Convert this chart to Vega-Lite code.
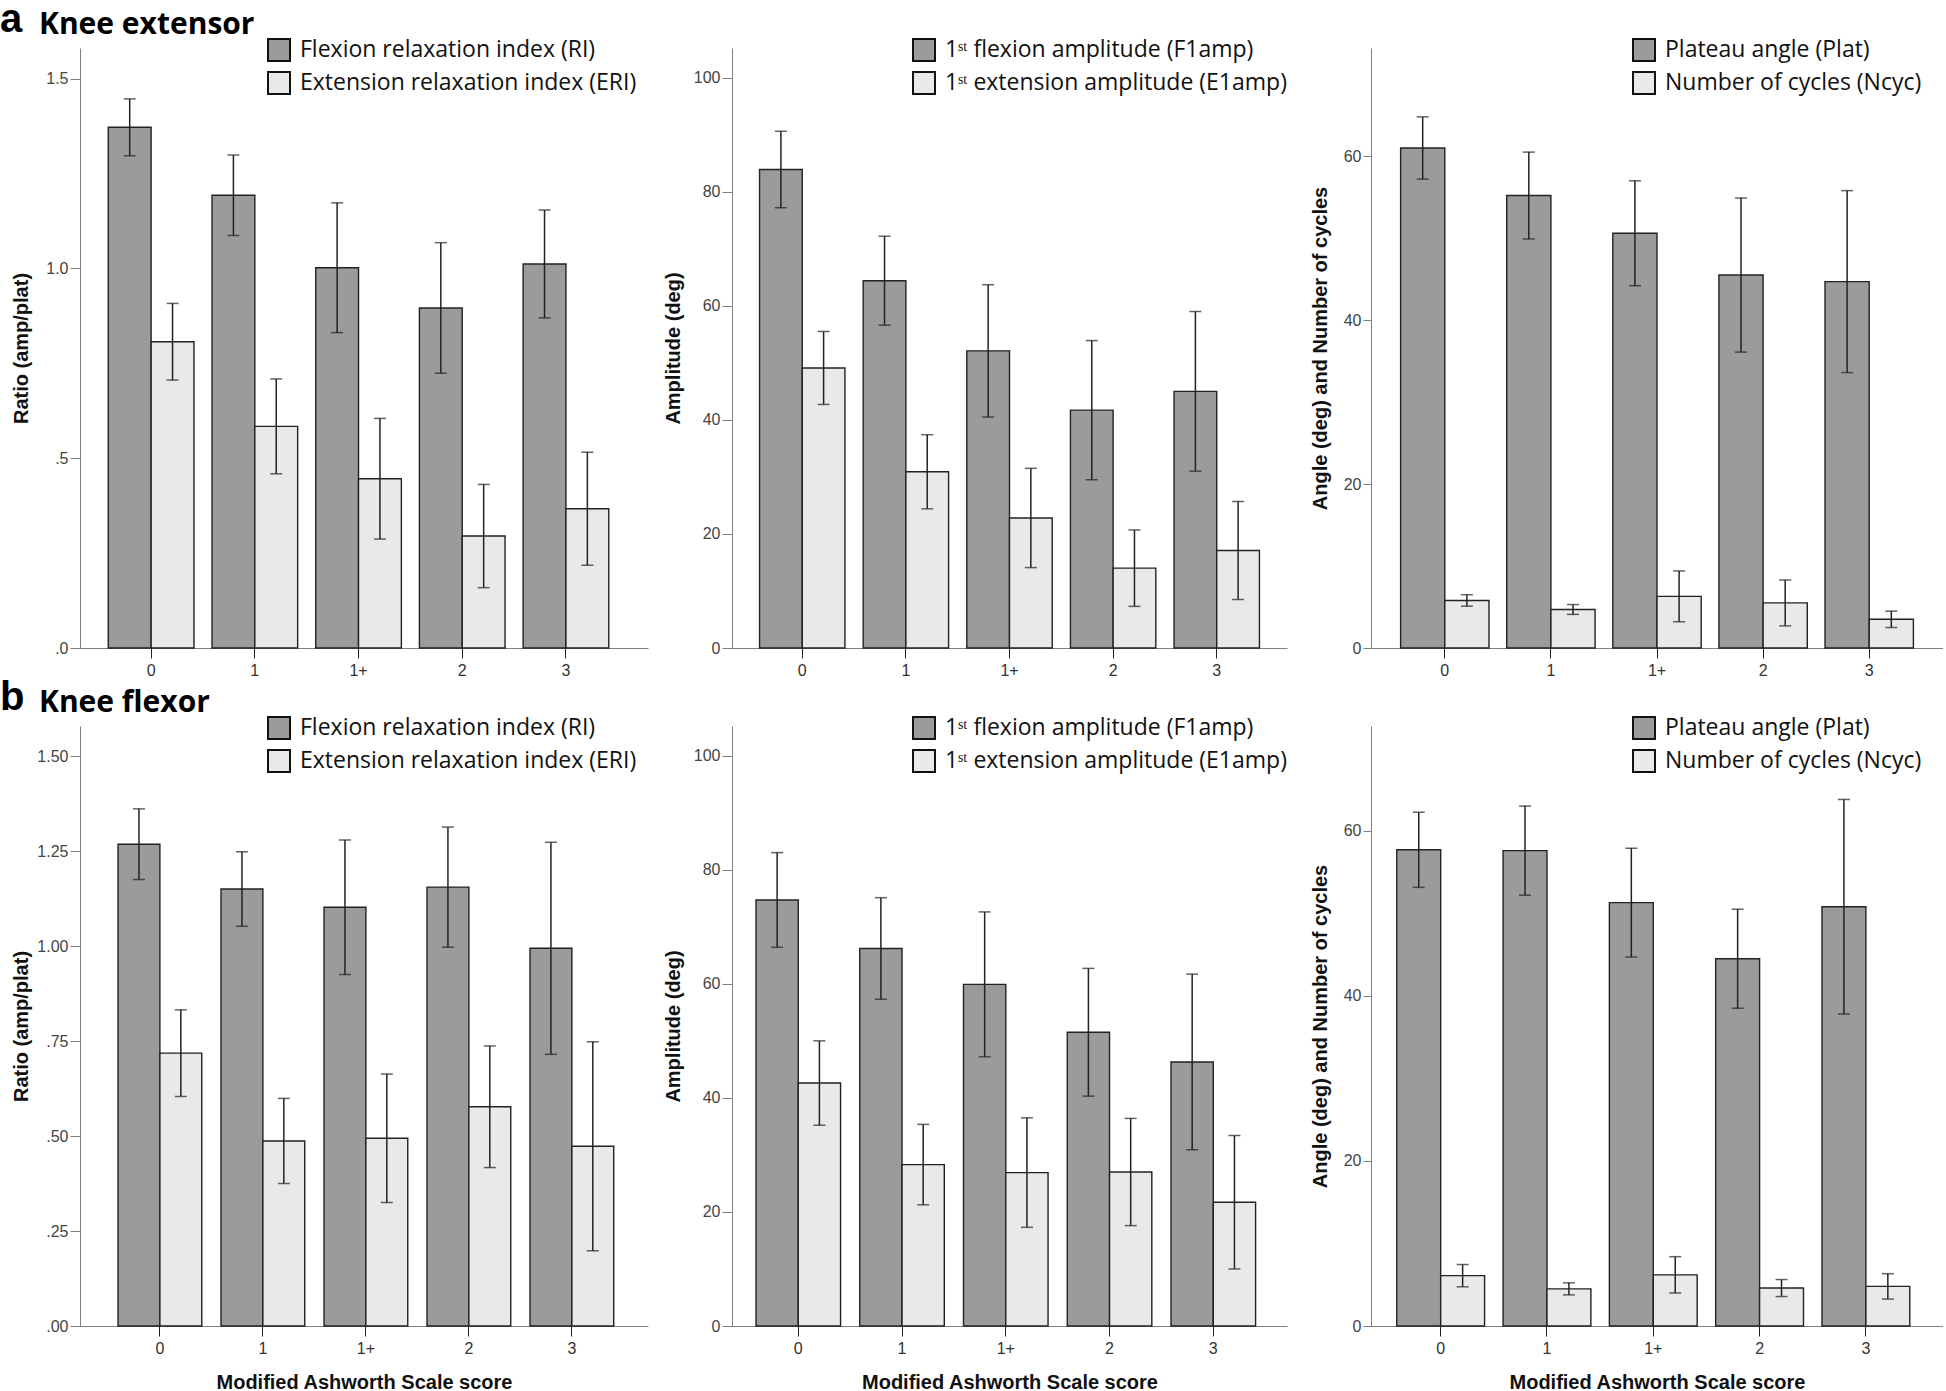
{
  "$schema": "https://vega.github.io/schema/vega-lite/v6.json",
  "padding": 0,
  "autosize": {"type": "pad"},
  "background": "white",
  "config": {
    "view": {"stroke": null},
    "font": "Liberation Sans",
    "axis": {"grid": false, "domainColor": "#808080", "tickColor": "#808080", "labelColor": "#444444", "labelFont": "Liberation Sans", "labelFontSize": 16, "titleFont": "Liberation Sans", "titleFontSize": 20, "titleFontWeight": "bold", "titleColor": "#111111"},
    "axisY": {"tickSize": 10, "labelPadding": 2},
    "axisX": {"tickSize": 10, "labelPadding": 4, "labelAngle": 0, "tickColor": "#222222", "labelColor": "#333333", "titlePadding": 16},
    "legend": {"symbolType": "square", "symbolSize": 484, "symbolStrokeColor": "#111111", "symbolStrokeWidth": 2, "symbolOpacity": 1, "labelFont": "Open Sans", "labelFontSize": 23, "labelColor": "#111111", "labelLimit": 600, "rowPadding": 3, "labelOffset": 9, "padding": 0},
    "title": {"anchor": "start", "frame": "group", "dx": -80, "offset": -2, "font": "Liberation Sans", "fontSize": 40, "fontWeight": "bold", "color": "#000000", "subtitleFont": "Open Sans", "subtitleFontSize": 30, "subtitleFontWeight": "bold", "subtitleColor": "#000000", "subtitlePadding": -30}
  },
  "datasets": {
    "p1": [
      {"c": "0", "s": "Flexion relaxation index (RI)", "m": 1.372, "lo": 1.297, "hi": 1.447},
      {"c": "1", "s": "Flexion relaxation index (RI)", "m": 1.193, "lo": 1.087, "hi": 1.299},
      {"c": "1+", "s": "Flexion relaxation index (RI)", "m": 1.002, "lo": 0.831, "hi": 1.173},
      {"c": "2", "s": "Flexion relaxation index (RI)", "m": 0.896, "lo": 0.724, "hi": 1.068},
      {"c": "3", "s": "Flexion relaxation index (RI)", "m": 1.012, "lo": 0.870, "hi": 1.154},
      {"c": "0", "s": "Extension relaxation index (ERI)", "m": 0.807, "lo": 0.706, "hi": 0.908},
      {"c": "1", "s": "Extension relaxation index (ERI)", "m": 0.584, "lo": 0.459, "hi": 0.709},
      {"c": "1+", "s": "Extension relaxation index (ERI)", "m": 0.446, "lo": 0.287, "hi": 0.605},
      {"c": "2", "s": "Extension relaxation index (ERI)", "m": 0.295, "lo": 0.159, "hi": 0.431},
      {"c": "3", "s": "Extension relaxation index (ERI)", "m": 0.367, "lo": 0.218, "hi": 0.516}
    ],
    "p2": [
      {"c": "0", "s": "1\u02e2\u1d57 flexion amplitude (F1amp)", "m": 83.9, "lo": 77.2, "hi": 90.6},
      {"c": "1", "s": "1\u02e2\u1d57 flexion amplitude (F1amp)", "m": 64.4, "lo": 56.6, "hi": 72.2},
      {"c": "1+", "s": "1\u02e2\u1d57 flexion amplitude (F1amp)", "m": 52.1, "lo": 40.5, "hi": 63.7},
      {"c": "2", "s": "1\u02e2\u1d57 flexion amplitude (F1amp)", "m": 41.7, "lo": 29.5, "hi": 53.9},
      {"c": "3", "s": "1\u02e2\u1d57 flexion amplitude (F1amp)", "m": 45.0, "lo": 31.0, "hi": 59.0},
      {"c": "0", "s": "1\u02e2\u1d57 extension amplitude (E1amp)", "m": 49.1, "lo": 42.7, "hi": 55.5},
      {"c": "1", "s": "1\u02e2\u1d57 extension amplitude (E1amp)", "m": 30.9, "lo": 24.4, "hi": 37.4},
      {"c": "1+", "s": "1\u02e2\u1d57 extension amplitude (E1amp)", "m": 22.8, "lo": 14.1, "hi": 31.5},
      {"c": "2", "s": "1\u02e2\u1d57 extension amplitude (E1amp)", "m": 14.0, "lo": 7.3, "hi": 20.7},
      {"c": "3", "s": "1\u02e2\u1d57 extension amplitude (E1amp)", "m": 17.1, "lo": 8.5, "hi": 25.7}
    ],
    "p3": [
      {"c": "0", "s": "Plateau angle (Plat)", "m": 61.0, "lo": 57.2, "hi": 64.8},
      {"c": "1", "s": "Plateau angle (Plat)", "m": 55.2, "lo": 49.9, "hi": 60.5},
      {"c": "1+", "s": "Plateau angle (Plat)", "m": 50.6, "lo": 44.2, "hi": 57.0},
      {"c": "2", "s": "Plateau angle (Plat)", "m": 45.5, "lo": 36.1, "hi": 54.9},
      {"c": "3", "s": "Plateau angle (Plat)", "m": 44.7, "lo": 33.6, "hi": 55.8},
      {"c": "0", "s": "Number of cycles (Ncyc)", "m": 5.8, "lo": 5.1, "hi": 6.5},
      {"c": "1", "s": "Number of cycles (Ncyc)", "m": 4.7, "lo": 4.1, "hi": 5.3},
      {"c": "1+", "s": "Number of cycles (Ncyc)", "m": 6.3, "lo": 3.2, "hi": 9.4},
      {"c": "2", "s": "Number of cycles (Ncyc)", "m": 5.5, "lo": 2.7, "hi": 8.3},
      {"c": "3", "s": "Number of cycles (Ncyc)", "m": 3.5, "lo": 2.5, "hi": 4.5}
    ],
    "p4": [
      {"c": "0", "s": "Flexion relaxation index (RI)", "m": 1.268, "lo": 1.175, "hi": 1.361},
      {"c": "1", "s": "Flexion relaxation index (RI)", "m": 1.150, "lo": 1.052, "hi": 1.248},
      {"c": "1+", "s": "Flexion relaxation index (RI)", "m": 1.102, "lo": 0.925, "hi": 1.279},
      {"c": "2", "s": "Flexion relaxation index (RI)", "m": 1.155, "lo": 0.997, "hi": 1.313},
      {"c": "3", "s": "Flexion relaxation index (RI)", "m": 0.994, "lo": 0.715, "hi": 1.273},
      {"c": "0", "s": "Extension relaxation index (ERI)", "m": 0.718, "lo": 0.604, "hi": 0.832},
      {"c": "1", "s": "Extension relaxation index (ERI)", "m": 0.487, "lo": 0.375, "hi": 0.599},
      {"c": "1+", "s": "Extension relaxation index (ERI)", "m": 0.494, "lo": 0.325, "hi": 0.663},
      {"c": "2", "s": "Extension relaxation index (ERI)", "m": 0.577, "lo": 0.417, "hi": 0.737},
      {"c": "3", "s": "Extension relaxation index (ERI)", "m": 0.473, "lo": 0.198, "hi": 0.748}
    ],
    "p5": [
      {"c": "0", "s": "1\u02e2\u1d57 flexion amplitude (F1amp)", "m": 74.7, "lo": 66.4, "hi": 83.0},
      {"c": "1", "s": "1\u02e2\u1d57 flexion amplitude (F1amp)", "m": 66.2, "lo": 57.3, "hi": 75.1},
      {"c": "1+", "s": "1\u02e2\u1d57 flexion amplitude (F1amp)", "m": 59.9, "lo": 47.2, "hi": 72.6},
      {"c": "2", "s": "1\u02e2\u1d57 flexion amplitude (F1amp)", "m": 51.5, "lo": 40.3, "hi": 62.7},
      {"c": "3", "s": "1\u02e2\u1d57 flexion amplitude (F1amp)", "m": 46.3, "lo": 30.9, "hi": 61.7},
      {"c": "0", "s": "1\u02e2\u1d57 extension amplitude (E1amp)", "m": 42.6, "lo": 35.2, "hi": 50.0},
      {"c": "1", "s": "1\u02e2\u1d57 extension amplitude (E1amp)", "m": 28.3, "lo": 21.25, "hi": 35.35},
      {"c": "1+", "s": "1\u02e2\u1d57 extension amplitude (E1amp)", "m": 26.9, "lo": 17.3, "hi": 36.5},
      {"c": "2", "s": "1\u02e2\u1d57 extension amplitude (E1amp)", "m": 27.0, "lo": 17.6, "hi": 36.4},
      {"c": "3", "s": "1\u02e2\u1d57 extension amplitude (E1amp)", "m": 21.7, "lo": 10.0, "hi": 33.4}
    ],
    "p6": [
      {"c": "0", "s": "Plateau angle (Plat)", "m": 57.7, "lo": 53.15, "hi": 62.25},
      {"c": "1", "s": "Plateau angle (Plat)", "m": 57.6, "lo": 52.2, "hi": 63.0},
      {"c": "1+", "s": "Plateau angle (Plat)", "m": 51.3, "lo": 44.7, "hi": 57.9},
      {"c": "2", "s": "Plateau angle (Plat)", "m": 44.5, "lo": 38.5, "hi": 50.5},
      {"c": "3", "s": "Plateau angle (Plat)", "m": 50.8, "lo": 37.8, "hi": 63.8},
      {"c": "0", "s": "Number of cycles (Ncyc)", "m": 6.1, "lo": 4.75, "hi": 7.45},
      {"c": "1", "s": "Number of cycles (Ncyc)", "m": 4.5, "lo": 3.77, "hi": 5.23},
      {"c": "1+", "s": "Number of cycles (Ncyc)", "m": 6.2, "lo": 4.0, "hi": 8.4},
      {"c": "2", "s": "Number of cycles (Ncyc)", "m": 4.6, "lo": 3.57, "hi": 5.63},
      {"c": "3", "s": "Number of cycles (Ncyc)", "m": 4.8, "lo": 3.26, "hi": 6.34}
    ]
  },
  "columns": 3,
  "spacing": {"row": 78, "column": 84},
  "bounds": "flush",
  "resolve": {
    "scale": {"x": "independent", "y": "independent", "color": "independent", "xOffset": "independent"},
    "axis": {"x": "independent", "y": "independent"},
    "legend": {"color": "independent"}
  },
  "concat": [
    {
      "width": 568, "height": 600,
      "data": {"name": "p1"},
      "title": {"text": "a", "subtitle": "\u200b\u00a0\u00a0\u00a0\u00a0\u00a0Knee extensor"},
      "encoding": {
        "x": {"field": "c", "type": "nominal", "sort": null, "scale": {"domain": ["0", "1", "1+", "2", "3"], "paddingInner": 0.174, "paddingOuter": 0.3255, "align": 0.419}, "axis": {"title": null}},
        "xOffset": {"field": "s", "type": "nominal", "sort": null, "scale": {"domain": ["Flexion relaxation index (RI)", "Extension relaxation index (ERI)"], "paddingInner": 0, "paddingOuter": 0}}
      },
      "layer": [
        {"mark": {"type": "bar", "stroke": "#222222", "strokeWidth": 1.4},
         "encoding": {
           "y": {"field": "m", "type": "quantitative", "title": "Ratio (amp/plat)", "scale": {"domain": [0, 1.581], "nice": false}, "axis": {"values": [0, 0.5, 1, 1.5], "labelExpr": "datum.value < 1 ? slice(format(datum.value, '.1f'), 1) : format(datum.value, '.1f')", "minExtent": 40, "maxExtent": 40, "titlePadding": 9}},
           "color": {"field": "s", "type": "nominal", "title": null, "scale": {"domain": ["Flexion relaxation index (RI)", "Extension relaxation index (ERI)"], "range": ["#9b9b9b", "#e9e9e9"]}, "legend": {"orient": "none", "legendX": 187, "legendY": -10, "title": null}}
         }},
        {"mark": {"type": "rule", "color": "#222222", "strokeWidth": 1.5},
         "encoding": {"y": {"field": "lo", "type": "quantitative", "title": "Ratio (amp/plat)", "scale": {"domain": [0, 1.581], "nice": false}}, "y2": {"field": "hi"}}},
        {"mark": {"type": "tick", "color": "#222222", "thickness": 1.5, "size": 12},
         "encoding": {"y": {"field": "lo", "type": "quantitative", "title": "Ratio (amp/plat)", "scale": {"domain": [0, 1.581], "nice": false}}}},
        {"mark": {"type": "tick", "color": "#222222", "thickness": 1.5, "size": 12},
         "encoding": {"y": {"field": "hi", "type": "quantitative", "title": "Ratio (amp/plat)", "scale": {"domain": [0, 1.581], "nice": false}}}}
      ]
    },
    {
      "width": 555, "height": 600,
      "data": {"name": "p2"},
      "encoding": {
        "x": {"field": "c", "type": "nominal", "sort": null, "scale": {"domain": ["0", "1", "1+", "2", "3"], "paddingInner": 0.176, "paddingOuter": 0.266, "align": 0.5}, "axis": {"title": null}},
        "xOffset": {"field": "s", "type": "nominal", "sort": null, "scale": {"domain": ["1\u02e2\u1d57 flexion amplitude (F1amp)", "1\u02e2\u1d57 extension amplitude (E1amp)"], "paddingInner": 0, "paddingOuter": 0}}
      },
      "layer": [
        {"mark": {"type": "bar", "stroke": "#222222", "strokeWidth": 1.4},
         "encoding": {
           "y": {"field": "m", "type": "quantitative", "title": "Amplitude (deg)", "scale": {"domain": [0, 105.2], "nice": false}, "axis": {"values": [0, 20, 40, 60, 80, 100], "minExtent": 40, "maxExtent": 40, "titlePadding": 9}},
           "color": {"field": "s", "type": "nominal", "title": null, "scale": {"domain": ["1\u02e2\u1d57 flexion amplitude (F1amp)", "1\u02e2\u1d57 extension amplitude (E1amp)"], "range": ["#9b9b9b", "#e9e9e9"]}, "legend": {"orient": "none", "legendX": 180, "legendY": -10, "title": null}}
         }},
        {"mark": {"type": "rule", "color": "#222222", "strokeWidth": 1.5},
         "encoding": {"y": {"field": "lo", "type": "quantitative", "title": "Amplitude (deg)", "scale": {"domain": [0, 105.2], "nice": false}}, "y2": {"field": "hi"}}},
        {"mark": {"type": "tick", "color": "#222222", "thickness": 1.5, "size": 12},
         "encoding": {"y": {"field": "lo", "type": "quantitative", "title": "Amplitude (deg)", "scale": {"domain": [0, 105.2], "nice": false}}}},
        {"mark": {"type": "tick", "color": "#222222", "thickness": 1.5, "size": 12},
         "encoding": {"y": {"field": "hi", "type": "quantitative", "title": "Amplitude (deg)", "scale": {"domain": [0, 105.2], "nice": false}}}}
      ]
    },
    {
      "width": 572, "height": 600,
      "data": {"name": "p3"},
      "encoding": {
        "x": {"field": "c", "type": "nominal", "sort": null, "scale": {"domain": ["0", "1", "1+", "2", "3"], "paddingInner": 0.167, "paddingOuter": 0.279, "align": 0.5}, "axis": {"title": null}},
        "xOffset": {"field": "s", "type": "nominal", "sort": null, "scale": {"domain": ["Plateau angle (Plat)", "Number of cycles (Ncyc)"], "paddingInner": 0, "paddingOuter": 0}}
      },
      "layer": [
        {"mark": {"type": "bar", "stroke": "#222222", "strokeWidth": 1.4},
         "encoding": {
           "y": {"field": "m", "type": "quantitative", "title": "Angle (deg) and Number of cycles", "scale": {"domain": [0, 73.2], "nice": false}, "axis": {"values": [0, 20, 40, 60], "tickSize": 8, "minExtent": 32, "maxExtent": 32, "titlePadding": 9}},
           "color": {"field": "s", "type": "nominal", "title": null, "scale": {"domain": ["Plateau angle (Plat)", "Number of cycles (Ncyc)"], "range": ["#9b9b9b", "#e9e9e9"]}, "legend": {"orient": "none", "legendX": 261, "legendY": -10, "title": null}}
         }},
        {"mark": {"type": "rule", "color": "#222222", "strokeWidth": 1.5},
         "encoding": {"y": {"field": "lo", "type": "quantitative", "title": "Angle (deg) and Number of cycles", "scale": {"domain": [0, 73.2], "nice": false}}, "y2": {"field": "hi"}}},
        {"mark": {"type": "tick", "color": "#222222", "thickness": 1.5, "size": 12},
         "encoding": {"y": {"field": "lo", "type": "quantitative", "title": "Angle (deg) and Number of cycles", "scale": {"domain": [0, 73.2], "nice": false}}}},
        {"mark": {"type": "tick", "color": "#222222", "thickness": 1.5, "size": 12},
         "encoding": {"y": {"field": "hi", "type": "quantitative", "title": "Angle (deg) and Number of cycles", "scale": {"domain": [0, 73.2], "nice": false}}}}
      ]
    },
    {
      "width": 568, "height": 600,
      "data": {"name": "p4"},
      "title": {"text": "b", "subtitle": "\u200b\u00a0\u00a0\u00a0\u00a0\u00a0Knee flexor"},
      "encoding": {
        "x": {"field": "c", "type": "nominal", "sort": null, "scale": {"domain": ["0", "1", "1+", "2", "3"], "paddingInner": 0.187, "paddingOuter": 0.351, "align": 0.526}, "axis": {"title": "Modified Ashworth Scale score"}},
        "xOffset": {"field": "s", "type": "nominal", "sort": null, "scale": {"domain": ["Flexion relaxation index (RI)", "Extension relaxation index (ERI)"], "paddingInner": 0, "paddingOuter": 0}}
      },
      "layer": [
        {"mark": {"type": "bar", "stroke": "#222222", "strokeWidth": 1.4},
         "encoding": {
           "y": {"field": "m", "type": "quantitative", "title": "Ratio (amp/plat)", "scale": {"domain": [0, 1.579], "nice": false}, "axis": {"values": [0, 0.25, 0.5, 0.75, 1, 1.25, 1.5], "labelExpr": "datum.value < 1 ? slice(format(datum.value, '.2f'), 1) : format(datum.value, '.2f')", "minExtent": 40, "maxExtent": 40, "titlePadding": 9}},
           "color": {"field": "s", "type": "nominal", "title": null, "scale": {"domain": ["Flexion relaxation index (RI)", "Extension relaxation index (ERI)"], "range": ["#9b9b9b", "#e9e9e9"]}, "legend": {"orient": "none", "legendX": 187, "legendY": -10, "title": null}}
         }},
        {"mark": {"type": "rule", "color": "#222222", "strokeWidth": 1.5},
         "encoding": {"y": {"field": "lo", "type": "quantitative", "title": "Ratio (amp/plat)", "scale": {"domain": [0, 1.579], "nice": false}}, "y2": {"field": "hi"}}},
        {"mark": {"type": "tick", "color": "#222222", "thickness": 1.5, "size": 12},
         "encoding": {"y": {"field": "lo", "type": "quantitative", "title": "Ratio (amp/plat)", "scale": {"domain": [0, 1.579], "nice": false}}}},
        {"mark": {"type": "tick", "color": "#222222", "thickness": 1.5, "size": 12},
         "encoding": {"y": {"field": "hi", "type": "quantitative", "title": "Ratio (amp/plat)", "scale": {"domain": [0, 1.579], "nice": false}}}}
      ]
    },
    {
      "width": 555, "height": 600,
      "data": {"name": "p5"},
      "encoding": {
        "x": {"field": "c", "type": "nominal", "sort": null, "scale": {"domain": ["0", "1", "1+", "2", "3"], "paddingInner": 0.185, "paddingOuter": 0.267, "align": 0.433}, "axis": {"title": "Modified Ashworth Scale score"}},
        "xOffset": {"field": "s", "type": "nominal", "sort": null, "scale": {"domain": ["1\u02e2\u1d57 flexion amplitude (F1amp)", "1\u02e2\u1d57 extension amplitude (E1amp)"], "paddingInner": 0, "paddingOuter": 0}}
      },
      "layer": [
        {"mark": {"type": "bar", "stroke": "#222222", "strokeWidth": 1.4},
         "encoding": {
           "y": {"field": "m", "type": "quantitative", "title": "Amplitude (deg)", "scale": {"domain": [0, 105.2], "nice": false}, "axis": {"values": [0, 20, 40, 60, 80, 100], "minExtent": 40, "maxExtent": 40, "titlePadding": 9}},
           "color": {"field": "s", "type": "nominal", "title": null, "scale": {"domain": ["1\u02e2\u1d57 flexion amplitude (F1amp)", "1\u02e2\u1d57 extension amplitude (E1amp)"], "range": ["#9b9b9b", "#e9e9e9"]}, "legend": {"orient": "none", "legendX": 180, "legendY": -10, "title": null}}
         }},
        {"mark": {"type": "rule", "color": "#222222", "strokeWidth": 1.5},
         "encoding": {"y": {"field": "lo", "type": "quantitative", "title": "Amplitude (deg)", "scale": {"domain": [0, 105.2], "nice": false}}, "y2": {"field": "hi"}}},
        {"mark": {"type": "tick", "color": "#222222", "thickness": 1.5, "size": 12},
         "encoding": {"y": {"field": "lo", "type": "quantitative", "title": "Amplitude (deg)", "scale": {"domain": [0, 105.2], "nice": false}}}},
        {"mark": {"type": "tick", "color": "#222222", "thickness": 1.5, "size": 12},
         "encoding": {"y": {"field": "hi", "type": "quantitative", "title": "Amplitude (deg)", "scale": {"domain": [0, 105.2], "nice": false}}}}
      ]
    },
    {
      "width": 572, "height": 600,
      "data": {"name": "p6"},
      "encoding": {
        "x": {"field": "c", "type": "nominal", "sort": null, "scale": {"domain": ["0", "1", "1+", "2", "3"], "paddingInner": 0.174, "paddingOuter": 0.2775, "align": 0.437}, "axis": {"title": "Modified Ashworth Scale score"}},
        "xOffset": {"field": "s", "type": "nominal", "sort": null, "scale": {"domain": ["Plateau angle (Plat)", "Number of cycles (Ncyc)"], "paddingInner": 0, "paddingOuter": 0}}
      },
      "layer": [
        {"mark": {"type": "bar", "stroke": "#222222", "strokeWidth": 1.4},
         "encoding": {
           "y": {"field": "m", "type": "quantitative", "title": "Angle (deg) and Number of cycles", "scale": {"domain": [0, 72.7], "nice": false}, "axis": {"values": [0, 20, 40, 60], "tickSize": 8, "minExtent": 32, "maxExtent": 32, "titlePadding": 9}},
           "color": {"field": "s", "type": "nominal", "title": null, "scale": {"domain": ["Plateau angle (Plat)", "Number of cycles (Ncyc)"], "range": ["#9b9b9b", "#e9e9e9"]}, "legend": {"orient": "none", "legendX": 261, "legendY": -10, "title": null}}
         }},
        {"mark": {"type": "rule", "color": "#222222", "strokeWidth": 1.5},
         "encoding": {"y": {"field": "lo", "type": "quantitative", "title": "Angle (deg) and Number of cycles", "scale": {"domain": [0, 72.7], "nice": false}}, "y2": {"field": "hi"}}},
        {"mark": {"type": "tick", "color": "#222222", "thickness": 1.5, "size": 12},
         "encoding": {"y": {"field": "lo", "type": "quantitative", "title": "Angle (deg) and Number of cycles", "scale": {"domain": [0, 72.7], "nice": false}}}},
        {"mark": {"type": "tick", "color": "#222222", "thickness": 1.5, "size": 12},
         "encoding": {"y": {"field": "hi", "type": "quantitative", "title": "Angle (deg) and Number of cycles", "scale": {"domain": [0, 72.7], "nice": false}}}}
      ]
    }
  ]
}
